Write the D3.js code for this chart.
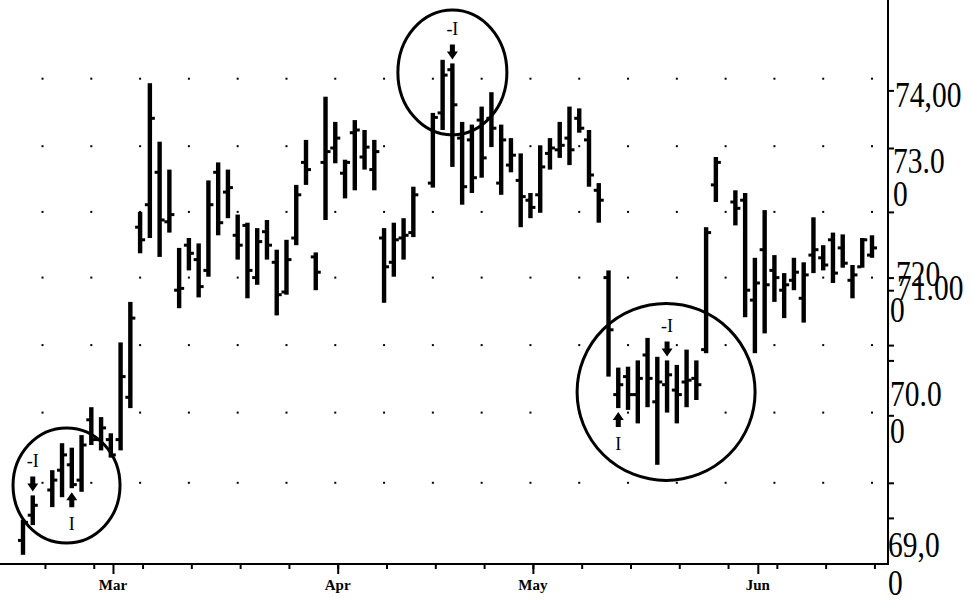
<!DOCTYPE html>
<html><head><meta charset="utf-8">
<script src="https://cdn.jsdelivr.net/npm/d3@7"></script>
<style>
html,body{margin:0;padding:0;background:#fff;}
svg{display:block;}
</style></head>
<body>
<svg id="chart" width="972" height="601"></svg>
<script>
// ---------- DATA ----------
// x = trading-day slot (0 = first bar); slots 2, 41 and 72 are market holidays
const days = [0,1,3,4,5,6,7,8,9,10,11,12,13,14,15,16,17,18,19,20,21,22,23,24,25,26,27,28,29,30,
  31,32,33,34,35,36,37,38,39,40,42,43,44,45,46,47,48,49,50,51,52,53,54,55,56,57,58,59,60,
  61,62,63,64,65,66,67,68,69,70,71,73,74,75,76,77,78,79,80,81,82,83,84,85,86,87];
const high = [69.27,69.54,69.82,70.12,70.07,70.21,70.52,70.41,70.23,71.24,71.69,72.69,74.12,73.47,73.16,72.29,72.40,72.34,73.04,73.24,
  73.16,72.66,72.57,72.51,72.60,72.27,72.38,72.99,73.49,72.24,73.97,73.69,73.27,73.71,73.60,73.49,72.51,72.57,72.62,72.97,
  73.79,74.38,74.34,73.69,73.66,73.86,74.02,73.66,73.51,73.34,72.90,73.43,73.51,73.69,73.86,73.84,73.60,73.01,72.04,
  70.96,70.97,71.04,71.29,71.08,71.04,70.99,71.16,71.04,72.52,73.30,72.93,72.90,72.18,72.71,72.21,72.01,72.18,72.13,72.63,72.32,72.46,72.44,72.10,72.40,72.43];
const low = [68.88,69.21,69.41,69.52,69.62,69.58,70.10,70.04,69.96,70.04,70.51,72.23,72.40,72.19,72.46,71.62,72.04,71.74,71.97,72.43,
  72.62,72.16,71.73,71.88,72.16,71.54,71.77,72.32,72.99,71.82,72.60,73.23,72.84,72.93,73.16,72.93,71.68,71.97,72.16,72.41,
  72.96,73.60,73.19,72.77,72.90,73.07,73.41,72.88,73.13,72.52,72.62,72.68,73.16,73.29,73.21,73.57,72.97,72.57,70.86,
  70.51,70.49,70.34,70.52,69.88,70.46,70.34,70.52,70.60,71.12,72.80,72.54,71.52,71.12,71.34,71.69,71.51,71.82,71.46,72.01,72.04,71.90,72.07,71.73,72.07,72.18];
const open = [69.04,69.32,69.60,69.82,69.88,69.71,70.38,70.16,70.16,70.16,70.63,72.52,72.77,73.13,72.58,71.82,72.32,72.16,72.04,73.13,
  72.91,72.43,72.54,71.96,72.47,72.13,71.80,72.40,73.24,72.19,73.24,73.40,73.12,73.57,73.30,73.16,72.40,72.13,72.40,72.46,
  73.01,73.79,74.27,73.51,73.49,73.71,73.73,73.01,73.21,73.04,72.82,72.88,73.34,73.38,73.51,73.73,73.49,72.93,71.96,
  70.66,70.86,70.66,71.10,70.58,70.77,70.71,70.80,70.84,71.16,72.99,72.80,72.82,71.71,72.27,72.04,71.82,71.93,71.73,72.21,72.18,72.38,72.29,71.93,72.08,72.21];
const close = [69.24,69.43,69.71,69.99,69.66,70.10,70.16,70.29,69.99,70.86,71.51,72.38,73.73,72.60,72.66,71.84,72.23,71.86,72.77,72.57,
  72.96,72.32,72.04,72.36,72.32,71.77,72.16,72.88,73.16,72.02,73.36,73.51,73.24,73.60,73.41,73.36,72.08,72.38,72.43,72.88,
  73.74,74.21,73.88,72.97,73.07,73.29,73.62,73.49,73.32,72.86,72.74,73.19,73.40,73.43,73.38,73.62,73.10,72.82,71.38,
  70.77,70.66,70.84,70.84,70.80,70.88,70.66,70.82,70.77,72.46,73.24,72.73,71.82,71.90,71.88,71.96,71.88,72.02,71.99,72.27,72.10,72.01,72.12,71.99,72.38,72.29];

// time axis
const weekTicks = [2.25,7.25,12.25,17.25,22.25,27.25,32.25,37.25,42.25,47.25,52.25,57.25,62.25,67.25,72.25,77.25,82.25,87.25];
const monthTicks = [9.22,32.25,52.25,75.3];
const monthLabels = ["Mar","Apr","May","Jun"];
// dotted grid
const gridCols = [2,7,12,17,22,27,32,37,42,47,52,57,62,67,72,77,82,87];
const gridRows = [74.17,73.42,72.69,71.96,71.21,70.46,69.68];
// price axis
const priceTicks = [74.04,73.40,72.69,71.96,71.82,71.21,71.04,70.43,69.68,69.29];
const priceLabelText = ["74,00","73.0","0","720","71.00","0","70.0","0","69,0","0"];
const priceLabelValue = [73.86,73.12,72.76,71.87,71.71,71.47,70.53,70.12,68.86,68.43];
// signal markers
const signalDays = [1,5,44,61,66];
const signalTypes = ["-I","I","-I","I","-I"];
// highlighted zones (centres)
const zoneDays = [4.46,44.0,65.9];
const zonePrices = [69.65,74.24,70.69];

// ---------- LAYOUT ----------
const AXIS_X = 888, AXIS_Y = 564;
const priceLabelDx = [7,5,5,8,9,2,2,2,0,0];
const zoneRadii = [[53.5,57.5],[54.5,62.5],[89,88.5]];

const svg = d3.select("#chart");
const x = d3.scaleLinear().domain([0, 87]).range([23, 872]);
const y = d3.scaleLinear().domain([69, 74]).range([544, 94]);

// grid dots
const g = svg.append("g");
gridRows.forEach(r => gridCols.forEach(c => {
  g.append("rect").attr("x", x(c) - 1).attr("y", y(r) - 1).attr("width", 2).attr("height", 2).attr("fill", "#000");
}));

// bars
const bars = svg.append("g");
days.forEach((d, i) => {
  const cx = x(d);
  bars.append("rect").attr("x", cx - 2.2).attr("y", y(high[i])).attr("width", 4.4)
    .attr("height", y(low[i]) - y(high[i])).attr("fill", "#000");
  bars.append("rect").attr("x", cx - 5).attr("y", y(open[i]) - 1.5).attr("width", 4).attr("height", 3).attr("fill", "#000");
  bars.append("rect").attr("x", cx + 1).attr("y", y(close[i]) - 1.5).attr("width", 4).attr("height", 3).attr("fill", "#000");
});

// zones
zoneDays.forEach((d, i) => {
  svg.append("ellipse").attr("cx", x(d)).attr("cy", y(zonePrices[i]))
    .attr("rx", zoneRadii[i][0]).attr("ry", zoneRadii[i][1])
    .attr("fill", "none").attr("stroke", "#000").attr("stroke-width", 3);
});

// signals
signalDays.forEach((d, k) => {
  const i = days.indexOf(d);
  const cx = x(d);
  if (signalTypes[k] === "-I") {
    const tip = y(high[i]) - 4;
    svg.append("path").attr("d",
      `M${cx-2.5},${tip-15}L${cx+2.5},${tip-15}L${cx+2.5},${tip-8}L${cx+5.5},${tip-8}L${cx},${tip}L${cx-5.5},${tip-8}L${cx-2.5},${tip-8}Z`)
      .attr("fill", "#000");
    svg.append("text").attr("x", cx).attr("y", tip - 24).attr("text-anchor", "middle")
      .attr("font-family", "Liberation Serif, serif").attr("font-size", 18).text(signalTypes[k]);
  } else {
    const tip = y(low[i]) + 4;
    svg.append("path").attr("d",
      `M${cx-2.5},${tip+15}L${cx+2.5},${tip+15}L${cx+2.5},${tip+8}L${cx+5.5},${tip+8}L${cx},${tip}L${cx-5.5},${tip+8}L${cx-2.5},${tip+8}Z`)
      .attr("fill", "#000");
    svg.append("text").attr("x", cx).attr("y", tip + 38).attr("text-anchor", "middle")
      .attr("font-family", "Liberation Serif, serif").attr("font-size", 18).text(signalTypes[k]);
  }
});

// bottom axis
const xa = svg.append("g").attr("transform", `translate(0,${AXIS_Y})`);
xa.call(d3.axisBottom(x).tickValues(weekTicks).tickSize(5).tickFormat(""));
xa.select(".domain").remove();
const xm = svg.append("g").attr("transform", `translate(0,${AXIS_Y})`);
xm.call(d3.axisBottom(x).tickValues(monthTicks).tickSize(10).tickFormat(""));
xm.select(".domain").remove();
svg.selectAll(".tick line").attr("stroke", "#000").attr("stroke-width", 2);
svg.append("line").attr("x1", 0).attr("x2", AXIS_X).attr("y1", AXIS_Y).attr("y2", AXIS_Y)
  .attr("stroke", "#000").attr("stroke-width", 2);
monthTicks.forEach((m, i) => {
  svg.append("text").attr("x", x(m)).attr("y", 590).attr("text-anchor", "middle")
    .attr("font-family", "Liberation Serif, serif").attr("font-weight", "bold").attr("font-size", 15)
    .text(monthLabels[i]);
});

// right axis
const ya = svg.append("g").attr("transform", `translate(${AXIS_X},0)`);
ya.call(d3.axisRight(y).tickValues(priceTicks).tickSize(6).tickFormat(""));
ya.select(".domain").remove();
ya.selectAll(".tick line").attr("stroke", "#000").attr("stroke-width", 2);
svg.append("line").attr("x1", AXIS_X).attr("x2", AXIS_X).attr("y1", 0).attr("y2", AXIS_Y + 1)
  .attr("stroke", "#000").attr("stroke-width", 2);
priceLabelText.forEach((t, i) => {
  const lx = AXIS_X + priceLabelDx[i];
  svg.append("text").attr("transform", `translate(${lx},${y(priceLabelValue[i])}) scale(0.82,1)`)
    .attr("font-family", "Liberation Serif, serif").attr("font-size", 36).attr("fill", "#000").text(t);
});
</script>
</body></html>
